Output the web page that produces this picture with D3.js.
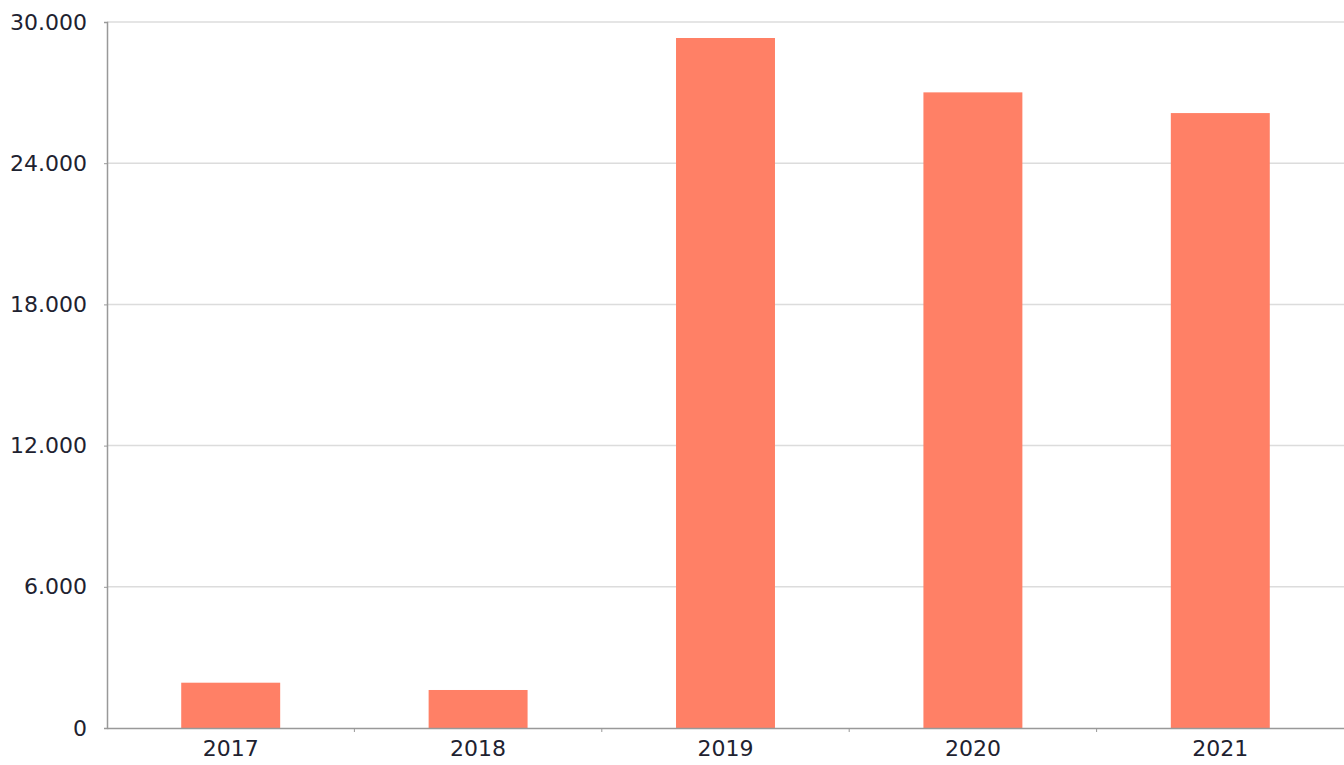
<!DOCTYPE html>
<html><head><meta charset="utf-8">
<script src="https://cdn.jsdelivr.net/npm/d3@7"></script>
<style>body{margin:0;background:#fff;overflow:hidden}</style>
</head><body>
<svg id="c" width="1344" height="765"></svg>
<script>
const categories = ["2017","2018","2019","2020","2021"];
const values = [1925, 1615, 29320, 27010, 26130];
const yTicks = [0, 6000, 12000, 18000, 24000, 30000];
const yTickLabels = ["0","6.000","12.000","18.000","24.000","30.000"];

(function () {
const svg = d3.select("#c");
const mLeft = 107, mRight = 1344, mTop = 22, mBottom = 728;
const font = "'DejaVu Sans', sans-serif";
const x = d3.scaleBand().domain(categories).range([mLeft, mRight]).paddingInner(0.6).paddingOuter(0.3);
const y = d3.scaleLinear().domain([0, 30000]).range([mBottom, mTop]);

// grid
svg.append("g").selectAll("line").data(yTicks.filter(d => d > 0)).join("line")
  .attr("x1", mLeft).attr("x2", mRight).attr("y1", d => y(d)).attr("y2", d => y(d))
  .attr("stroke", "#dcdcdc").attr("stroke-width", 1.5);

// bars
svg.append("g").selectAll("rect").data(values).join("rect")
  .attr("x", (d, i) => x(categories[i])).attr("width", x.bandwidth())
  .attr("y", d => y(d)).attr("height", d => mBottom - y(d))
  .attr("fill", "#ff8066");

// y axis
const ya = svg.append("g").attr("transform", `translate(${mLeft},0)`)
  .call(d3.axisLeft(y).tickValues(yTicks).tickFormat((d, i) => yTickLabels[i]).tickSize(3).tickPadding(17));
ya.select(".domain").attr("stroke", "#999").attr("stroke-width", 1.5);
ya.selectAll(".tick line").attr("stroke", "#999");
ya.selectAll("text").attr("font-family", font).attr("font-size", 22).attr("fill", "#1e2230");

// x axis
const step = x.step();
const xa = svg.append("g").attr("transform", `translate(0,${mBottom})`)
  .call(d3.axisBottom(x).tickSize(0).tickPadding(12));
xa.select(".domain").attr("stroke", "#999").attr("stroke-width", 1.5);
xa.selectAll("text").attr("font-family", font).attr("font-size", 22).attr("fill", "#1e2230");
// category boundary ticks
svg.append("g").selectAll("line").data(categories.slice(0, 4)).join("line")
  .attr("x1", d => x(d) + x.bandwidth() / 2 + step / 2).attr("x2", d => x(d) + x.bandwidth() / 2 + step / 2)
  .attr("y1", mBottom).attr("y2", mBottom + 4).attr("stroke", "#999");
})();
</script>
</body></html>
